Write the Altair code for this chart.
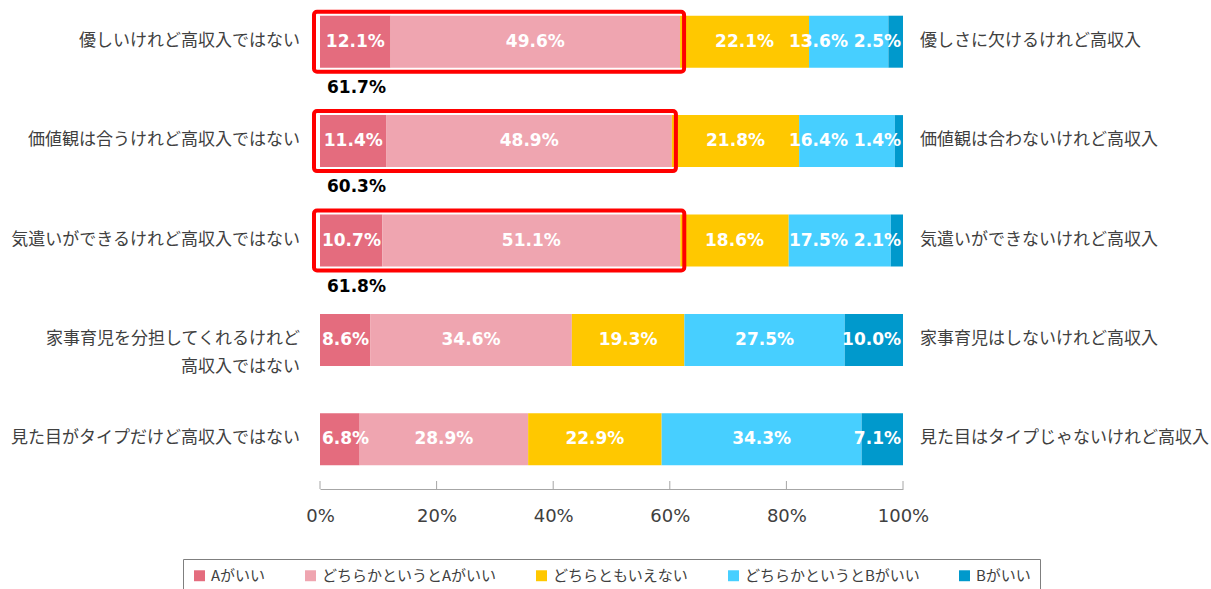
import altair as alt
import pandas as pd

# ---- data ----
labels_a = [
    "優しいけれど高収入ではない",
    "価値観は合うけれど高収入ではない",
    "気遣いができるけれど高収入ではない",
    "家事育児を分担してくれるけれど\n高収入ではない",
    "見た目がタイプだけど高収入ではない",
]
labels_b = [
    "優しさに欠けるけれど高収入",
    "価値観は合わないけれど高収入",
    "気遣いができないけれど高収入",
    "家事育児はしないけれど高収入",
    "見た目はタイプじゃないけれど高収入",
]
series = ["Aがいい", "どちらかというとAがいい", "どちらともいえない", "どちらかというとBがいい", "Bがいい"]
a_good = [12.1, 11.4, 10.7, 8.6, 6.8]
rather_a = [49.6, 48.9, 51.1, 34.6, 28.9]
neutral = [22.1, 21.8, 18.6, 19.3, 22.9]
rather_b = [13.6, 16.4, 17.5, 27.5, 34.3]
b_good = [2.5, 1.4, 2.1, 10.0, 7.1]
highlight = [True, True, True, False, False]
tick_values = [0, 20, 40, 60, 80, 100]
colors = ["#E46C7E", "#EFA5B0", "#FFC800", "#47CFFF", "#0099CC"]

# ---- layout constants ----
W = 583
H = 497
FONT_JP = "Noto Sans CJK JP"
FONT_NUM = "DejaVu Sans"
GRAY = "#404040"

keys = [f"r{i}" for i in range(len(labels_a))]
cols = [a_good, rather_a, neutral, rather_b, b_good]

# label width estimate (px) for de-overlapping the value labels
def text_w(s):
    w = 0.0
    for ch in s:
        if ch.isdigit():
            w += 11.8
        elif ch == ".":
            w += 6.5
        elif ch == "%":
            w += 17.0
        else:
            w += 10
    return w

long_rows = []
row_rows = []
for i, k in enumerate(keys):
    vals = [c[i] for c in cols]
    total = sum(vals)
    cum = 0.0
    segs = []
    for j, v in enumerate(vals):
        s = cum / total
        e = (cum + v) / total
        cum += v
        lab = f"{v:.1f}%"
        segs.append({"row": k, "series": series[j], "order": j, "start": s, "end": e,
                     "label": lab, "c": (s + e) / 2 * W, "hw": text_w(lab) / 2})
    gap, edge = 6, 2
    pos = [sg["c"] for sg in segs]
    pos[0] = max(pos[0], segs[0]["hw"] + edge)
    for j in range(1, len(segs)):
        pos[j] = max(pos[j], pos[j - 1] + segs[j - 1]["hw"] + gap + segs[j]["hw"])
    pos[-1] = min(pos[-1], W - segs[-1]["hw"] - edge)
    for j in range(len(segs) - 2, -1, -1):
        pos[j] = min(pos[j], pos[j + 1] - segs[j + 1]["hw"] - gap - segs[j]["hw"])
    for j, sg in enumerate(segs):
        sg["pos"] = pos[j] / W
        long_rows.append(sg)
    sumA = a_good[i] + rather_a[i]
    row_rows.append({"row": k, "labA": labels_a[i], "labB": labels_b[i], "zero": 0.0, "one": 1.0,
                     "sumA": sumA / total, "sum_label": f"{sumA:.1f}%", "hl": highlight[i]})

df = pd.DataFrame(long_rows)
rows = pd.DataFrame(row_rows)
ticks_df = pd.DataFrame({"t": [t / 100 for t in tick_values]})

xscale = alt.Scale(domain=[0, 1], nice=False, zero=True)
xaxis = alt.Axis(values=[t / 100 for t in tick_values], format=".0%", offset=-8, ticks=False,
                 grid=False, domainColor="#A6A6A6", labelFont=FONT_NUM, labelFontSize=18,
                 labelColor=GRAY, labelPadding=18, labelFlush=False, title=None)
Y = alt.Y("row:N", sort=keys, axis=None, scale=alt.Scale(paddingInner=0, paddingOuter=0))

bars = alt.Chart(df).mark_bar(size=52, yOffset=-8).encode(
    y=Y,
    x=alt.X("start:Q", scale=xscale, axis=xaxis),
    x2="end:Q",
    color=alt.Color("series:N", scale=alt.Scale(domain=series, range=colors),
                    legend=alt.Legend(orient="none", legendX=-137, legendY=559, direction="horizontal",
                                      columns=5, padding=9, strokeColor="#7F7F7F", symbolType="square",
                                      symbolSize=120, symbolStrokeWidth=0, labelFont=FONT_JP,
                                      labelFontSize=15, labelColor=GRAY, columnPadding=37,
                                      labelOffset=4, labelLimit=400, title=None)),
    order=alt.Order("order:Q"),
)

vals_txt = alt.Chart(df).mark_text(color="white", font=FONT_NUM, fontWeight="bold", fontSize=17,
                                   baseline="middle", dy=-8).encode(
    y=Y, x=alt.X("pos:Q", scale=xscale, axis=xaxis), text="label:N")

boxes = alt.Chart(rows).transform_filter("datum.hl").mark_bar(
    size=60, yOffset=-8, xOffset=-6, x2Offset=4, fillOpacity=0, stroke="#FF0000",
    strokeWidth=4, cornerRadius=3).encode(
    y=Y, x=alt.X("zero:Q", scale=xscale, axis=xaxis), x2="sumA:Q")

sum_txt = alt.Chart(rows).transform_filter("datum.hl").mark_text(
    align="left", baseline="middle", dx=7, dy=38, font=FONT_NUM, fontWeight="bold",
    fontSize=17, color="black").encode(
    y=Y, x=alt.X("zero:Q", scale=xscale, axis=xaxis), text="sum_label:N")

left_txt = alt.Chart(rows).mark_text(align="right", baseline="middle", dx=-20, dy=-9,
                                     lineBreak="\n", lineHeight=28, font=FONT_JP, fontSize=17,
                                     color=GRAY).encode(
    y=Y, x=alt.X("zero:Q", scale=xscale, axis=xaxis), text="labA:N")

right_txt = alt.Chart(rows).mark_text(align="left", baseline="middle", dx=17, dy=-9,
                                      font=FONT_JP, fontSize=17, color=GRAY).encode(
    y=Y, x=alt.X("one:Q", scale=xscale, axis=xaxis), text="labB:N")

tick_marks = alt.Chart(ticks_df).mark_rule(color="#A6A6A6", strokeWidth=1).encode(
    x=alt.X("t:Q", scale=xscale, axis=xaxis), y=alt.value(481), y2=alt.value(489))

chart = alt.layer(bars, boxes, vals_txt, sum_txt, left_txt, right_txt, tick_marks).properties(
    width=W, height=H, autosize=alt.AutoSizeParams(type="none"),
    padding={"left": 320, "top": 0, "right": 308, "bottom": 92},
).configure_view(strokeWidth=0)

chart.save("out.html", embed_options={"renderer": "svg", "actions": False})
